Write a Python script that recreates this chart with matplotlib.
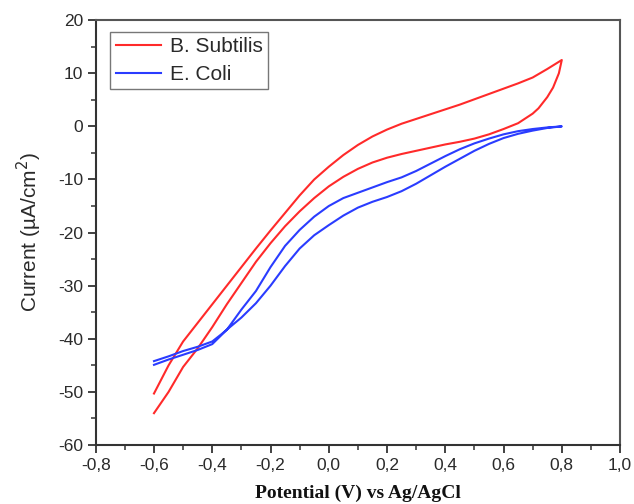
import matplotlib
matplotlib.use("Agg")
import matplotlib.pyplot as plt
from matplotlib.ticker import MultipleLocator, FuncFormatter

# B. Subtilis, forward (upper) branch
bs_fwd_x = [-0.6, -0.55, -0.5, -0.45, -0.4, -0.35, -0.3, -0.25, -0.2, -0.15, -0.1, -0.05, 0.0,
            0.05, 0.1, 0.15, 0.2, 0.25, 0.3, 0.35, 0.4, 0.45, 0.5, 0.55, 0.6, 0.65, 0.7, 0.75, 0.8]
bs_fwd_y = [-50.3, -45.0, -40.5, -37.0, -33.5, -30.0, -26.5, -23.0, -19.6, -16.3, -13.0, -10.0, -7.6,
            -5.4, -3.5, -1.9, -0.6, 0.5, 1.4, 2.3, 3.2, 4.1, 5.1, 6.1, 7.1, 8.1, 9.2, 10.8, 12.5]
# B. Subtilis, reverse (lower) branch
bs_rev_x = [0.8, 0.79, 0.77, 0.75, 0.72, 0.7, 0.65, 0.6, 0.55, 0.5, 0.45, 0.4, 0.35, 0.3, 0.25, 0.2,
            0.15, 0.1, 0.05, 0.0, -0.05, -0.1, -0.15, -0.2, -0.25, -0.3, -0.35, -0.4, -0.45, -0.5, -0.55, -0.6]
bs_rev_y = [12.5, 10.0, 7.3, 5.5, 3.4, 2.4, 0.6, -0.5, -1.5, -2.3, -2.9, -3.4, -4.0, -4.6, -5.2, -5.9,
            -6.8, -8.0, -9.5, -11.3, -13.5, -16.0, -18.8, -22.0, -25.5, -29.5, -33.5, -37.8, -41.8, -45.3, -50.0, -54.0]

# E. Coli, forward branch
ec_fwd_x = [-0.6, -0.55, -0.5, -0.45, -0.4, -0.37, -0.3, -0.25, -0.2, -0.15, -0.1, -0.05, 0.0, 0.05,
            0.1, 0.15, 0.2, 0.25, 0.3, 0.35, 0.4, 0.45, 0.5, 0.55, 0.6, 0.65, 0.7, 0.75, 0.8]
ec_fwd_y = [-44.2, -43.3, -42.3, -41.5, -40.5, -39.2, -36.0, -33.3, -30.0, -26.3, -23.0, -20.5, -18.6, -16.8,
            -15.3, -14.2, -13.3, -12.2, -10.8, -9.2, -7.6, -6.1, -4.6, -3.3, -2.2, -1.4, -0.8, -0.3, 0.0]
# E. Coli, reverse branch
ec_rev_x = [0.8, 0.75, 0.7, 0.65, 0.6, 0.55, 0.5, 0.45, 0.4, 0.35, 0.3, 0.25, 0.2, 0.15, 0.1, 0.05, 0.0,
            -0.05, -0.1, -0.15, -0.2, -0.25, -0.3, -0.35, -0.4, -0.45, -0.5, -0.55, -0.6]
ec_rev_y = [0.0, -0.2, -0.5, -0.9, -1.5, -2.3, -3.2, -4.3, -5.6, -7.0, -8.4, -9.6, -10.5, -11.5, -12.5, -13.5, -15.0,
            -17.0, -19.5, -22.5, -26.5, -31.0, -34.5, -38.3, -41.0, -42.1, -43.0, -43.9, -44.9]

red = "#ff2a2a"
blue = "#2a3cff"

plt.rcParams['font.family'] = ['Liberation Sans', 'DejaVu Sans']

fig = plt.figure(figsize=(6.34, 5.04), dpi=100)
ax = fig.add_axes([0.151, 0.117, 0.827, 0.843])

l1, = ax.plot(bs_fwd_x + bs_rev_x, bs_fwd_y + bs_rev_y, color=red, lw=1.5)
l2, = ax.plot(ec_fwd_x + ec_rev_x, ec_fwd_y + ec_rev_y, color=blue, lw=1.5)

ax.set_xlim(-0.8, 1.0)
ax.set_ylim(-60, 20)
ax.xaxis.set_major_locator(MultipleLocator(0.2))
ax.xaxis.set_minor_locator(MultipleLocator(0.1))
ax.yaxis.set_major_locator(MultipleLocator(10))
ax.yaxis.set_minor_locator(MultipleLocator(5))
ax.xaxis.set_major_formatter(FuncFormatter(lambda v, p: ("%.1f" % v).replace('.', ',').replace('-0,0', '0,0')))
ax.yaxis.set_major_formatter(FuncFormatter(lambda v, p: "%d" % v))
ax.tick_params(which='major', direction='out', length=6, width=1.3, labelsize=12.5, colors='#333333', pad=3)
ax.tick_params(which='minor', direction='out', length=3.5, width=1.1, colors='#333333')
ax.tick_params(labelcolor='#2a2a2a')

for s in ['left', 'bottom']:
    ax.spines[s].set_color('#333333')
    ax.spines[s].set_linewidth(1.5)
for s in ['top', 'right']:
    ax.spines[s].set_color('#555555')
    ax.spines[s].set_linewidth(1.5)

ax.set_ylabel("Current (µA/cm$^2$)", fontsize=15, color='#2a2a2a', labelpad=10)
ax.set_xlabel("Potential (V) vs Ag/AgCl", fontsize=14, fontweight='bold',
              family='Liberation Serif', color='#111111', labelpad=8.5)

leg = ax.legend([l1, l2], ["B. Subtilis", "E. Coli"], loc='upper left', fontsize=15,
                fancybox=False, framealpha=1, edgecolor='#777777', handlelength=2.2,
                borderpad=0.25, labelspacing=0.45, handletextpad=0.4, borderaxespad=0,
                bbox_to_anchor=(0.028, 0.973))
leg.get_frame().set_linewidth(1.0)
for t in leg.get_texts():
    t.set_color('#2a2a2a')

fig.savefig("out.png", dpi=100)
